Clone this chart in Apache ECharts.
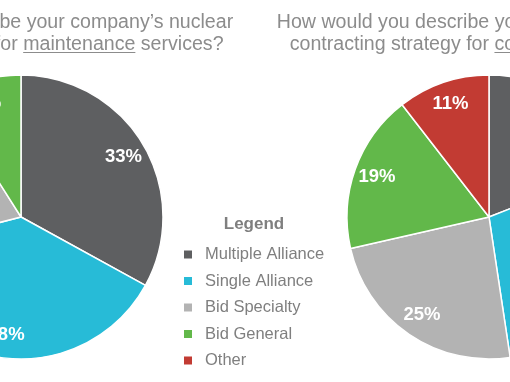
<!DOCTYPE html>
<html><head><meta charset="utf-8">
<script src="https://cdn.jsdelivr.net/npm/echarts@6/dist/echarts.min.js"></script>
<style>html,body{margin:0;padding:0;background:#fff}#c{width:510px;height:382px}</style>
</head><body><div id="c"></div>
<script>
const categories = ['Multiple Alliance', 'Single Alliance', 'Bid Specialty', 'Bid General', 'Other'];
const maintenanceValues = [33, 38, 20, 9];
const constructionValues = [20, 30, 25, 19, 11];
const titleLine1 = 'How would you describe your company\u2019s nuclear';
const maintenanceLine2 = ['contracting strategy for ', 'maintenance', ' services?'];
const constructionLine2 = ['contracting strategy for ', 'construction', ' services?'];
const legendTitle = 'Legend';
const colors = ['#5e5f61', '#27bbd7', '#b3b3b3', '#62b84a', '#c23b33'];

const FONT = '"Liberation Sans", Arial, sans-serif';
const TITLE_SIZE = 19.6;
const TITLE_COLOR = '#8c8c8c';
const R = 142, CY = 217, LCX = 21, RCX = 489;
const LABEL_R = 116;

function toData(vals) { return vals.map((v, i) => ({ name: categories[i], value: v })); }

const ctx = document.createElement('canvas').getContext('2d');
ctx.font = TITLE_SIZE + 'px ' + FONT;
function underline(parts, cx) {
  const total = ctx.measureText(parts.join('')).width;
  const pre = ctx.measureText(parts[0]).width;
  const w = ctx.measureText(parts[1]).width;
  const x0 = cx - total / 2 + pre;
  return { type: 'line', shape: { x1: x0, y1: 52.5, x2: x0 + w, y2: 52.5 },
    style: { stroke: TITLE_COLOR, lineWidth: 1.2 }, silent: true };
}

function titleObj(parts, cx) {
  return { text: titleLine1 + '\n' + parts.join(''), left: cx, top: 11.5, textAlign: 'center', padding: 0,
    textStyle: { fontFamily: FONT, fontSize: TITLE_SIZE, fontWeight: 'normal', color: TITLE_COLOR, lineHeight: 22 } };
}

function mainPie(vals, cx) {
  return { type: 'pie', center: [cx, CY], radius: [0, R], startAngle: 90, clockwise: true,
    data: toData(vals), label: { show: false }, labelLine: { show: false },
    itemStyle: { borderColor: '#fff', borderWidth: 1.5 }, emphasis: { disabled: true }, animation: false };
}
function labelPie(vals, cx) {
  return { type: 'pie', center: [cx, CY], radius: [2 * LABEL_R - R, R], startAngle: 90, clockwise: true,
    data: toData(vals), silent: true, itemStyle: { color: 'rgba(0,0,0,0)', borderWidth: 0 },
    label: { show: true, position: 'inside', formatter: '{c}%', color: '#fff', fontFamily: FONT, fontSize: 18.5, fontWeight: 'bold' },
    labelLine: { show: false }, emphasis: { disabled: true }, animation: false };
}

const chart = echarts.init(document.getElementById('c'), null, { renderer: 'canvas' });
chart.setOption({
  backgroundColor: '#fff',
  color: colors,
  animation: false,
  title: [
    titleObj(maintenanceLine2, LCX),
    titleObj(constructionLine2, RCX),
    { text: legendTitle, left: 254, top: 214, textAlign: 'center', padding: 0,
      textStyle: { fontFamily: FONT, fontSize: 17, fontWeight: 'bold', color: '#7f7f7f', lineHeight: 20 } }
  ],
  legend: {
    orient: 'vertical', left: 184, top: 245.5, padding: 0, itemGap: 8.5,
    icon: 'rect', itemWidth: 8, itemHeight: 8,
    itemStyle: { borderWidth: 0 },
    data: categories, selectedMode: false,
    textStyle: { fontFamily: FONT, fontSize: 16.5, color: '#7f7f7f', lineHeight: 18, padding: [0, 0, 0, 8] }
  },
  graphic: [underline(maintenanceLine2, LCX), underline(constructionLine2, RCX)],
  series: [
    mainPie(maintenanceValues, LCX),
    mainPie(constructionValues, RCX),
    labelPie(maintenanceValues, LCX),
    labelPie(constructionValues, RCX)
  ]
});
</script></body></html>
